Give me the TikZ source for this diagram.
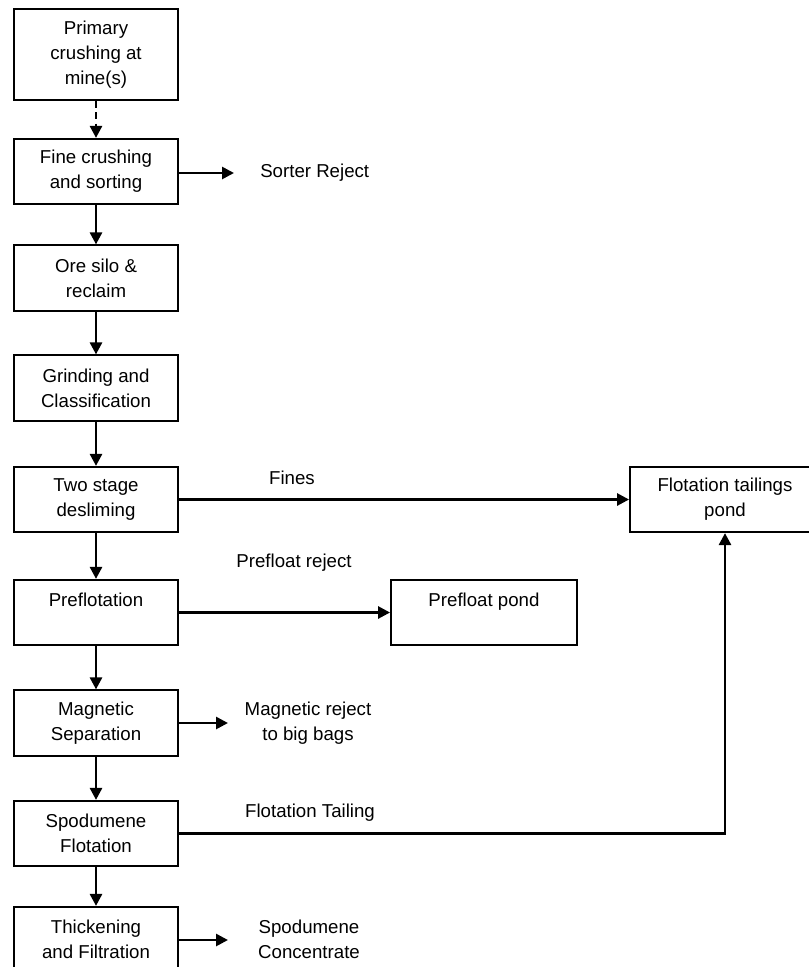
\documentclass[tikz,border=0pt]{standalone}
\usepackage{fontspec}
\setmainfont{Liberation Sans}
\usetikzlibrary{arrows.meta}
\newcommand\diagfont{\fontsize{14}{18.75}\selectfont}
\begin{document}
\begin{tikzpicture}[x=0.75pt,y=-0.75pt,
  box/.style={draw,line width=1.4pt,align=center,inner sep=0pt,font=\diagfont,minimum width=123pt,minimum height=49pt},
  lbl/.style={align=center,inner sep=0pt,font=\diagfont},
  flow/.style={line width=2pt,-{Triangle[length=9pt,width=9pt]}}
]
\useasboundingbox (0,0) rectangle (808,967);
% main column
\node[box,minimum height=68.25pt] (pc) at (96,54.5) {Primary\\crushing at\\mine(s)};
\node[box] (fc) at (96,171.5) {Fine crushing\\and sorting};
\node[box] (os) at (96,278) {Ore silo \&\\reclaim};
\node[box] (gc) at (96,388) {Grinding and\\Classification};
\node[box] (tsd) at (96,499.5) {Two stage\\desliming};
\node[box] (pre) at (96,612.5) {Preflotation\\\mbox{}};
\node[box] (ms) at (96,723) {Magnetic\\Separation};
\node[box] (sf) at (96,833.5) {Spodumene\\Flotation};
\node[box] (tf) at (96,939.5) {Thickening\\and Filtration};
% side boxes
\node[box,minimum width=142.5pt] (ftp) at (725,499.5) {Flotation tailings\\pond};
\node[box,minimum width=139.5pt] (pp) at (484,612.5) {Prefloat pond\\\mbox{}};
% labels
\node[lbl,anchor=west] (sr) at (260,173) {Sorter Reject};
\node[lbl] (fines) at (292,478) {Fines};
\node[lbl] (prl) at (294,563) {Prefloat reject};
\node[lbl] (mr) at (308,723.5) {Magnetic reject\\to big bags};
\node[lbl] (ftl) at (310,813) {Flotation Tailing};
\node[lbl] (sc) at (309,939) {Spodumene\\Concentrate};
% end coordinates
\coordinate (srend) at (234,173);
\coordinate (mrend) at (228,723);
\coordinate (scend) at (228,940);
% connectors
\draw[flow,dash pattern=on 5pt off 3.5pt] (pc.south) -- (fc.north);
\draw[flow] (fc.south) -- (os.north);
\draw[flow] (os.south) -- (gc.north);
\draw[flow] (gc.south) -- (tsd.north);
\draw[flow] (tsd.south) -- (pre.north);
\draw[flow] (pre.south) -- (ms.north);
\draw[flow] (ms.south) -- (sf.north);
\draw[flow] (sf.south) -- (tf.north);
\draw[flow] (fc.east |- srend) -- (srend);
\draw[flow] (ms.east |- mrend) -- (mrend);
\draw[flow] (tf.east |- scend) -- (scend);
\draw[flow] (tsd.east) -- (ftp.west);
\draw[flow] (pre.east) -- (pp.west);
\draw[flow] (sf.east) -| (ftp.south);
\end{tikzpicture}
\end{document}
